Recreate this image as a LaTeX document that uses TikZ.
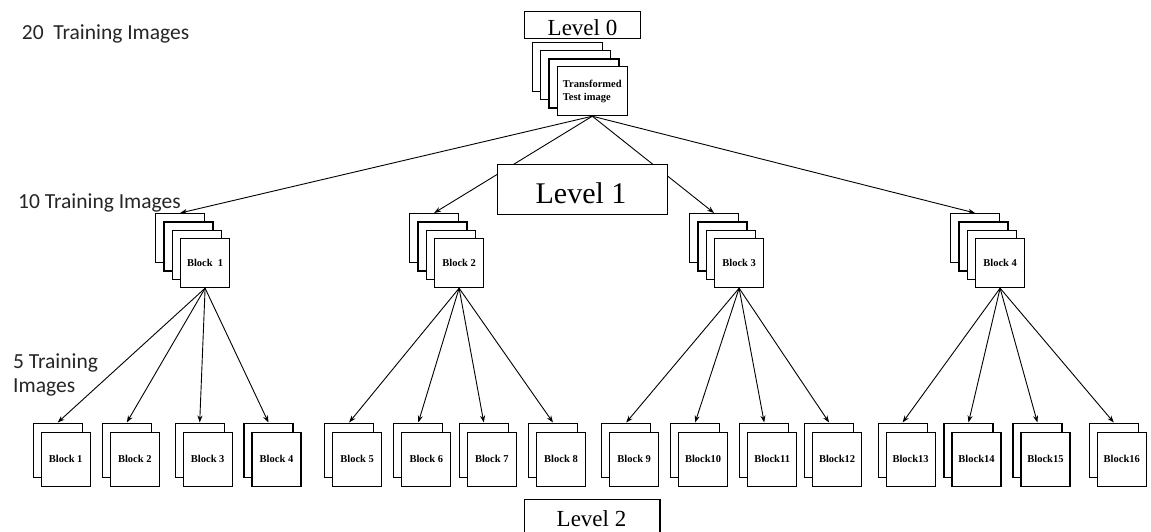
\documentclass[tikz,border=0pt]{standalone}
\usepackage{fontspec}
\setmainfont{Liberation Serif}
\newfontfamily\labelfont{Carlito}
\usetikzlibrary{arrows.meta}
\begin{document}
\begin{tikzpicture}[x=1pt,y=-1pt,
  cardbase/.style={draw, fill=white, line width=1.2pt, inner sep=0pt, anchor=north west},
  topcard/.style={cardbase, minimum width=70pt, minimum height=49pt},
  midcard/.style={cardbase, minimum width=49pt, minimum height=49pt},
  leafcard/.style={cardbase, minimum width=49pt, minimum height=54pt},
  blocktext/.style={font=\fontsize{10.5}{13}\selectfont\bfseries},
  conn/.style={line width=0.9pt, -{Stealth[length=7pt,width=5pt]}},
  levelbox/.style={draw, line width=1.2pt, fill=white},
  leveltext/.style={anchor=base, inner sep=0pt},
  sidelabel/.style={font=\labelfont\fontsize{21.5}{25}\selectfont, text=black!85, anchor=base west, inner sep=0pt}]
\clip (0,0) rectangle (1151,531);
\fill[white] (0,0) rectangle (1151,531);

% root stack
\node[topcard] (t1) at (531.7,41.7) {};
\node[topcard] (t2) at (540,50) {};
\node[topcard] (t3) at (548.3,58.3) {};
\node[topcard, blocktext, align=left] (t4) at (556.7,66) {Transformed\\Test image};

% level-1 stacks: three cards behind each labelled front card
\foreach \n/\x in {1/155,2/409,3/689,4/950}{
  \node[midcard] (ma\n) at (\x,213) {};
  \node[midcard] (mb\n) at (\x+8.33,221.33) {};
  \node[midcard] (mc\n) at (\x+16.67,229.67) {};
}
\node[midcard, blocktext] (m1) at (180,238) {Block~~1};
\node[midcard, blocktext] (m2) at (434,238) {Block 2};
\node[midcard, blocktext] (m3) at (714,238) {Block 3};
\node[midcard, blocktext] (m4) at (975,238) {Block 4};

% level-2 leaves: one card behind each labelled front card
\foreach \n/\x/\t in {1/32.6/Block~1, 2/101.7/Block~2, 3/174.6/Block~3, 4/243.4/Block~4,
                      5/324/Block~5, 6/393.2/Block~6, 7/458.7/Block~7, 8/527.9/Block~8,
                      9/601.1/Block~9, 10/670/Block10, 11/739.1/Block11, 12/804/Block12,
                      13/877.5/Block13, 14/943.4/Block14, 15/1012.3/Block15, 16/1088.7/Block16}{
  \node[leafcard] (la\n) at (\x,422.5) {};
  \node[leafcard, blocktext] (l\n) at (\x+8,431.5) {\t};
}

% connectors root -> level 1
\foreach \k in {1,...,4}
  \draw[conn] (t4.south) -- (ma\k.north);

% connectors level 1 -> level 2
\foreach \k in {1,...,4}{
  \foreach \j in {1,...,4}{
    \pgfmathtruncatemacro{\idx}{(\k-1)*4+\j}
    \draw[conn] (m\k.south) -- (la\idx.north);
  }
}

% level captions
\node[levelbox, minimum width=116pt, minimum height=26.7pt, inner sep=0pt, anchor=north west] (lev0) at (524,11) {};
\node[leveltext, font=\fontsize{23}{27}\selectfont] (lev0txt) at (582.5,35) {Level 0};

\node[levelbox, minimum width=170pt, minimum height=50pt, inner sep=0pt, anchor=north west] (lev1) at (496.7,164) {};
\node[leveltext, font=\fontsize{30}{36}\selectfont] (lev1txt) at (581,203.3) {Level 1};

\node[levelbox, minimum width=135.3pt, minimum height=46pt, inner sep=0pt, anchor=north west] (lev2) at (524,499) {};
\node[leveltext, font=\fontsize{23}{27}\selectfont] (lev2txt) at (591.5,526.7) {Level 2};

% training-set sizes
\node[sidelabel] (tr20) at (21.7,39.3) {20~~Training Images};
\node[sidelabel] (tr10) at (18,208) {10 Training Images};
\node[sidelabel] (tr5a) at (13,368) {5 Training};
\node[sidelabel] (tr5b) at (13,392) {Images};
\end{tikzpicture}
\end{document}
